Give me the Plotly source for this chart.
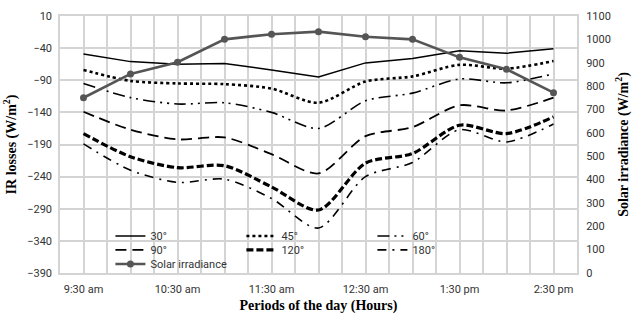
import plotly.graph_objects as go

hours = [9.5, 10.0, 10.5, 11.0, 11.5, 12.0, 12.5, 13.0, 13.5, 14.0, 14.5]
tick_hours = [9.5, 10.5, 11.5, 12.5, 13.5, 14.5]
tick_labels = ["9:30 am", "10:30 am", "11:30 am", "12:30 am", "1:30 pm", "2:30 pm"]

ir_30 = [-49, -61, -65, -64, -74, -85, -63, -56, -44, -48, -41]
ir_45 = [-74, -91, -95, -96, -103, -125, -92, -84, -66, -72, -60]
ir_60 = [-95, -117, -127, -125, -140, -165, -122, -110, -88, -94, -80]
ir_90 = [-139, -167, -182, -179, -205, -235, -177, -163, -129, -137, -117]
ir_120 = [-173, -209, -226, -223, -256, -292, -219, -204, -160, -173, -147]
ir_180 = [-189, -230, -249, -244, -274, -320, -240, -218, -167, -186, -158]
solar = [750, 852, 902, 1000, 1022, 1033, 1011, 1000, 923, 872, 772]

FONT = "Roboto, sans-serif"
SERIF = "Liberation Serif, Times New Roman, serif"
GRID = "#d4d4d4"

fig = go.Figure()

def ir_trace(name, vals, dash, width, shape, legend):
    fig.add_trace(go.Scatter(
        x=hours, y=vals, name=name, mode="lines",
        line=dict(color="black", dash=dash, width=width, shape=shape, smoothing=0.8),
        legend=legend, yaxis="y"))

ir_trace("30°", ir_30, "solid", 1.5, "linear", "legend")
ir_trace("45°", ir_45, "dot", 2.6, "spline", "legend")
ir_trace("60°", ir_60, "12px,5px,2px,5px,2px,5px", 1.6, "spline", "legend")
ir_trace("90°", ir_90, "11px,6px", 1.8, "spline", "legend2")
ir_trace("120°", ir_120, "7px,3px", 3.2, "spline", "legend2")
ir_trace("180°", ir_180, "9px,6px,2px,6px", 1.6, "spline", "legend2")

fig.add_trace(go.Scatter(
    x=hours, y=solar, name="Solar irradiance", mode="lines+markers",
    line=dict(color="#555555", width=2.6),
    marker=dict(color="#555555", size=7),
    legend="legend3", yaxis="y2"))

leg_common = dict(orientation="h", xanchor="left", yanchor="middle",
                  bgcolor="rgba(0,0,0,0)", borderwidth=0, entrywidth=86,
                  font=dict(family=FONT, size=11, color="#333333"),
                  tracegroupgap=0)

fig.update_layout(
    width=643, height=322,
    margin=dict(l=60, r=66, t=16, b=49, autoexpand=False),
    paper_bgcolor="white", plot_bgcolor="white",
    showlegend=True,
    legend=dict(x=0.0975, y=0.144, **leg_common),
    legend2=dict(x=0.0975, y=0.090, **leg_common),
    legend3=dict(x=0.0975, y=0.035, **leg_common),
    xaxis=dict(
        range=[9.25, 14.75], tickvals=tick_hours, ticktext=tick_labels,
        showgrid=True, gridcolor=GRID, gridwidth=1.5, automargin=False,
        minor=dict(dtick=0.25, tick0=9.25, showgrid=True, gridcolor=GRID, gridwidth=1.5),
        showline=True, linecolor=GRID, linewidth=1.5, mirror=True,
        zeroline=False, ticks="outside", ticklen=5, tickcolor="rgba(0,0,0,0)",
        tickfont=dict(family=FONT, size=11, color="#333333"),
        title=dict(text="<b>Periods of the day (Hours)</b>", standoff=5,
                   font=dict(family=SERIF, size=14, color="black")),
    ),
    yaxis=dict(
        range=[-390, 10], tick0=10, dtick=50, automargin=False,
        showgrid=True, gridcolor=GRID, gridwidth=1.5, zeroline=False,
        showline=True, linecolor=GRID, linewidth=1.5, mirror=True,
        ticks="outside", ticklen=4, tickcolor="rgba(0,0,0,0)",
        tickfont=dict(family=FONT, size=11, color="#333333"),
        title=dict(text="<b>IR losses (W/m<sup>2</sup>)</b>", standoff=7,
                   font=dict(family=SERIF, size=14, color="black")),
    ),
    yaxis2=dict(
        range=[0, 1100], tick0=0, dtick=100, overlaying="y", side="right",
        showgrid=False, zeroline=False, automargin=False,
        ticks="outside", ticklen=6, tickcolor="rgba(0,0,0,0)",
        tickfont=dict(family=FONT, size=11, color="#333333"),
        title=dict(text="<b>Solar irradiance (W/m<sup>2</sup>)</b>", standoff=8,
                   font=dict(family=SERIF, size=14, color="black")),
    ),
)

fig.write_html("out.html", config={"displayModeBar": False},
               post_script="document.body.style.margin='0';")
